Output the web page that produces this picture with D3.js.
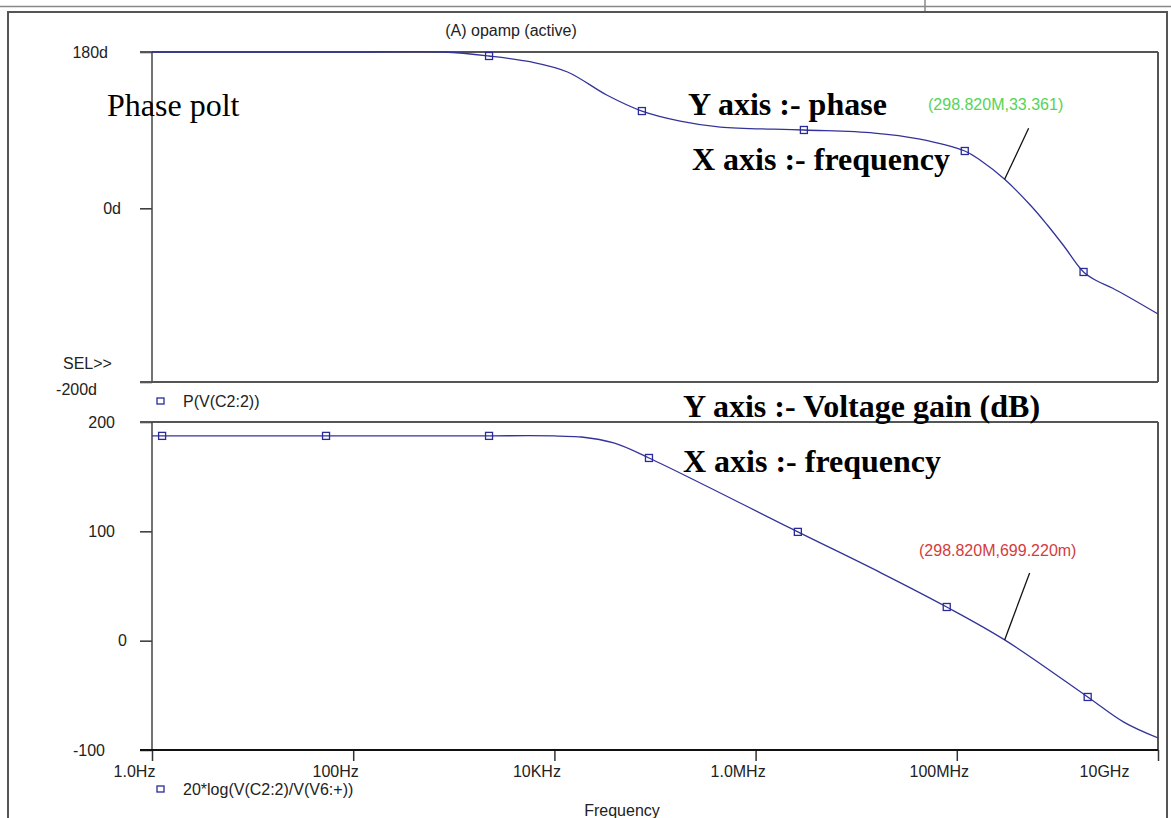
<!DOCTYPE html>
<html>
<head>
<meta charset="utf-8">
<script src="https://cdn.jsdelivr.net/npm/d3@7"></script>
<style>
  body { margin: 0; background: #fff; }
  svg text { font-family: "Liberation Sans", Arial, sans-serif; font-size: 16px; fill: #222; }
  svg text.note { font-family: "Liberation Serif", "Times New Roman", serif; font-size: 32px; fill: #000; }
</style>
</head>
<body>
<svg id="chart" width="1171" height="818"></svg>
<script>

// x axis (log frequency)
var xTicks = [1, 100, 1e4, 1e6, 1e8, 1e10];
var xTickLabels = ["1.0Hz", "100Hz", "10KHz", "1.0MHz", "100MHz", "10GHz"];

// top plot : phase in degrees
var phaseTicks = [180, 0, -200];
var phaseTickLabels = ["180d", "0d", "-200d"];
var phaseFreq = [1, 10, 100, 794, 2.24e3, 5.89e3, 1.35e4, 3.31e4, 7.41e4, 1.78e5, 4.47e5,
                 3.02e6, 1.51e7, 4.17e7, 1.20e8, 1.70e8, 2.99e8, 5.37e8, 7.94e8, 1.15e9,
                 1.82e9, 2.51e9, 3.55e9, 1e10];
var phaseDeg  = [180, 180, 180, 180, 175.4, 168.5, 157, 130.5, 112, 100.5, 93.6,
                 90.2, 86.7, 80, 66, 55.6, 33.4, 3.8, -19.2, -42.8,
                 -73.3, -84, -92, -121.7];
var phaseMarkFreq = [2.24e3, 7.41e4, 3.02e6, 1.20e8, 1.82e9];
var phaseMarkDeg  = [175.4, 112, 90.2, 66, -73.3];

// bottom plot : voltage gain in dB
var gainTicks = [200, 100, 0, -100];
var gainTickLabels = ["200", "100", "0", "-100"];
var gainFreq = [1, 10, 100, 1000, 1e4, 1.12e4, 1.86e4, 3.89e4, 8.71e4, 2.63e6, 1.74e7,
                7.94e7, 2.99e8, 2.00e9, 4.57e9, 1e10];
var gainDb   = [187.3, 187.3, 187.3, 187.3, 187.3, 187, 186.3, 180.8, 167.1, 99.5, 62.3,
                30.8, 0.7, -51.5, -74.5, -89];
var gainMarkFreq = [1.26, 53.7, 2.24e3, 8.71e4, 2.63e6, 7.94e7, 2.00e9];
var gainMarkDb   = [187.3, 187.3, 187.3, 167.1, 99.5, 30.8, -51.5];

// cursor readouts
var cursorFreq = 298.820e6;
var cursorPhase = 33.361;
var cursorGain = 0.69922;
var cursorPhaseText = "(298.820M,33.361)";
var cursorGainText = "(298.820M,699.220m)";


var svg = d3.select("#chart");
var left = 152, right = 1158;
var top1 = 52, bottom1 = 382, top2 = 422, bottom2 = 750;
var lineColor = "#333399";

var xScale = d3.scaleLog().domain([1, 1e10]).range([left, right]);
var yPhase = d3.scaleLinear().domain([-200, 180]).range([bottom1, top1]);
var yGain = d3.scaleLinear().domain([-100, 200]).range([bottom2, top2]);

// window frame
svg.append("line").attr("x1", 0).attr("x2", 1171).attr("y1", 6.5).attr("y2", 6.5)
  .attr("stroke", "#888").attr("stroke-width", 1.5);
svg.append("line").attr("x1", 925).attr("x2", 925).attr("y1", 0).attr("y2", 12)
  .attr("stroke", "#888").attr("stroke-width", 1.5);
svg.append("rect").attr("x", 8).attr("y", 12).attr("width", 1159).attr("height", 830)
  .attr("fill", "none").attr("stroke", "#555").attr("stroke-width", 2);

svg.append("text").attr("x", 511).attr("y", 36).attr("text-anchor", "middle")
  .text("(A) opamp (active)");

// clip paths
var defs = svg.append("defs");
defs.append("clipPath").attr("id", "clip1").append("rect")
  .attr("x", left).attr("y", top1 - 2).attr("width", right - left).attr("height", bottom1 - top1 + 2);
defs.append("clipPath").attr("id", "clip2").append("rect")
  .attr("x", left).attr("y", top2).attr("width", right - left).attr("height", bottom2 - top2);

function drawPlot(yScale, top, bottom, ticks, tickLabels, labelRight, clipId, freqs, vals, markF, markV){

    // box
    svg.append("line").attr("x1", right).attr("x2", right).attr("y1", top).attr("y2", bottom)
      .attr("stroke", "#555").attr("stroke-width", 2);

    var yAxis = svg.append("g")
        .attr("transform", "translate(" + left + ",0)")
        .call(d3.axisLeft(yScale).tickValues(ticks).tickSize(12).tickFormat(function(d, i){ return tickLabels[i]; }));
    yAxis.select(".domain").remove();
    yAxis.selectAll(".tick line").attr("stroke", "#333").attr("stroke-width", 1.5);
    yAxis.selectAll(".tick text")
      .attr("font-family", null).attr("font-size", null)
      .attr("x", function(d, i){ return labelRight[i] - left; })
      .style("fill", "#222");

    // top edge runs out to the tick length
    svg.append("line").attr("x1", left - 12).attr("x2", right).attr("y1", top).attr("y2", top)
      .attr("stroke", "#555").attr("stroke-width", 2);
    svg.append("line").attr("x1", left).attr("x2", left).attr("y1", top).attr("y2", bottom)
      .attr("stroke", "#444").attr("stroke-width", 1.5);

    var pts = d3.range(freqs.length).map(function(i){ return {f: freqs[i], v: vals[i]}; });
    svg.append("path")
      .datum(pts)
      .attr("clip-path", "url(#" + clipId + ")")
      .attr("fill", "none")
      .attr("stroke", lineColor)
      .attr("stroke-width", 1.3)
      .attr("d", d3.line()
        .curve(d3.curveCatmullRom.alpha(0.5))
        .x(function(d){ return xScale(d.f); })
        .y(function(d){ return yScale(d.v); }));

    var marks = d3.range(markF.length).map(function(i){ return {f: markF[i], v: markV[i]}; });
    svg.selectAll(null)
      .data(marks)
      .enter().append("rect")
        .attr("x", function(d){ return xScale(d.f) - 3.5; })
        .attr("y", function(d){ return yScale(d.v) - 3.5; })
        .attr("width", 7).attr("height", 7)
        .attr("fill", "none")
        .attr("stroke", "#2a2a9a")
        .attr("stroke-width", 1.3);
}

drawPlot(yPhase, top1, bottom1, phaseTicks, phaseTickLabels, [108, 121, 97], "clip1",
         phaseFreq, phaseDeg, phaseMarkFreq, phaseMarkDeg);
drawPlot(yGain, top2, bottom2, gainTicks, gainTickLabels, [115, 115, 127, 105], "clip2",
         gainFreq, gainDb, gainMarkFreq, gainMarkDb);

// bottom edge of phase plot
svg.append("line").attr("x1", left - 12).attr("x2", right).attr("y1", bottom1).attr("y2", bottom1)
  .attr("stroke", "#555").attr("stroke-width", 2);

// -200d label sits a little lower, with the selection mark above
svg.selectAll("text").filter(function(){ return this.textContent === "-200d"; })
  .attr("dy", "0.35em").attr("y", 7);
svg.append("text").attr("x", 63).attr("y", 369).text("SEL>>");

// x axis
var xAxis = svg.append("g")
    .attr("transform", "translate(0," + bottom2 + ")")
    .call(d3.axisBottom(xScale).tickValues(xTicks).tickSize(11)
      .tickFormat(function(d, i){ return xTickLabels[i]; }));
xAxis.select(".domain").remove();
xAxis.selectAll(".tick line").attr("stroke", "#333").attr("stroke-width", 1.5);
xAxis.selectAll(".tick text")
  .attr("font-family", null).attr("font-size", null)
  .attr("y", 16)
  .attr("dx", function(d, i){ return i === xTicks.length - 1 ? -54 : -18; })
  .style("fill", "#222");
svg.append("line").attr("x1", left - 12).attr("x2", right).attr("y1", bottom2).attr("y2", bottom2)
  .attr("stroke", "#111").attr("stroke-width", 2);

svg.append("text").attr("x", 622).attr("y", 816).attr("text-anchor", "middle").text("Frequency");

// legends
function legend(y, label){
    svg.append("rect").attr("x", 157).attr("y", y - 3).attr("width", 7).attr("height", 6)
      .attr("fill", "none").attr("stroke", "#2a2a9a").attr("stroke-width", 1.3);
    svg.append("text").attr("x", 183).attr("y", y + 6).text(label);
}
legend(401, "P(V(C2:2))");
legend(789, "20*log(V(C2:2)/V(V6:+))");

// cursor labels with leader lines
function cursor(yScale, value, text, color, tx, ty, dx, dy){
    var cx = xScale(cursorFreq), cy = yScale(value);
    svg.append("line").attr("x1", cx).attr("y1", cy).attr("x2", cx + dx).attr("y2", cy + dy)
      .attr("stroke", "#111").attr("stroke-width", 1.3);
    svg.append("text").attr("x", tx).attr("y", ty).style("fill", color).text(text);
}
cursor(yPhase, cursorPhase, cursorPhaseText, "#55d455", 928, 110, 24, -51);
cursor(yGain, cursorGain, cursorGainText, "#d43c3c", 919, 556, 25, -67);

// notes typed over the plot
function note(x, y, t, bold){
    svg.append("text").attr("class", "note").attr("x", x).attr("y", y)
      .attr("font-weight", bold ? "bold" : "normal").text(t);
}
note(107, 116, "Phase polt", false);
note(688, 115, "Y axis :- phase", true);
note(692, 170, "X axis :- frequency", true);
note(683, 417, "Y axis :- Voltage gain (dB)", true);
note(683, 472, "X axis :- frequency", true);

</script>
</body>
</html>
